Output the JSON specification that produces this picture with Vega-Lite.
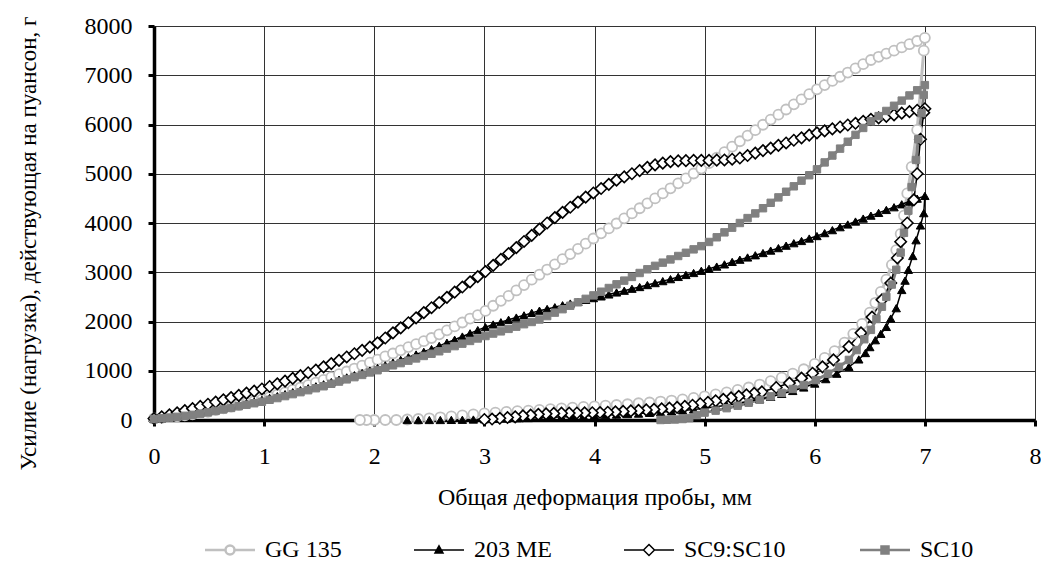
{
"$schema":"https://vega.github.io/schema/vega-lite/v6.json",
"width":881,"height":394,
"autosize":{"type":"none"},
"padding":{"left":154,"top":26,"right":6,"bottom":145},
"background":"white",
"config":{"view":{"stroke":null},"font":"Liberation Serif","legend":{"padding":0,"labelFont":"Liberation Serif","labelFontSize":24,"labelColor":"#000000"}},
"data":{"values":[
{"s":"GG 135","x":0,"y":30},{"s":"GG 135","x":0.07,"y":45},{"s":"GG 135","x":0.14,"y":58},{"s":"GG 135","x":0.21,"y":75},{"s":"GG 135","x":0.28,"y":95},{"s":"GG 135","x":0.35,"y":115},{"s":"GG 135","x":0.42,"y":140},{"s":"GG 135","x":0.49,"y":165},{"s":"GG 135","x":0.56,"y":200},{"s":"GG 135","x":0.63,"y":235},{"s":"GG 135","x":0.7,"y":270},{"s":"GG 135","x":0.77,"y":305},{"s":"GG 135","x":0.84,"y":345},{"s":"GG 135","x":0.91,"y":385},{"s":"GG 135","x":0.98,"y":420},{"s":"GG 135","x":1.05,"y":465},{"s":"GG 135","x":1.12,"y":515},{"s":"GG 135","x":1.19,"y":560},{"s":"GG 135","x":1.26,"y":610},{"s":"GG 135","x":1.33,"y":660},{"s":"GG 135","x":1.4,"y":710},{"s":"GG 135","x":1.47,"y":760},{"s":"GG 135","x":1.54,"y":815},{"s":"GG 135","x":1.61,"y":870},{"s":"GG 135","x":1.68,"y":930},{"s":"GG 135","x":1.75,"y":985},{"s":"GG 135","x":1.82,"y":1045},{"s":"GG 135","x":1.89,"y":1105},{"s":"GG 135","x":1.96,"y":1165},{"s":"GG 135","x":2.03,"y":1225},{"s":"GG 135","x":2.1,"y":1290},{"s":"GG 135","x":2.17,"y":1350},{"s":"GG 135","x":2.24,"y":1415},{"s":"GG 135","x":2.31,"y":1480},{"s":"GG 135","x":2.38,"y":1540},{"s":"GG 135","x":2.45,"y":1600},{"s":"GG 135","x":2.52,"y":1665},{"s":"GG 135","x":2.59,"y":1740},{"s":"GG 135","x":2.66,"y":1820},{"s":"GG 135","x":2.73,"y":1900},{"s":"GG 135","x":2.8,"y":1980},{"s":"GG 135","x":2.87,"y":2060},{"s":"GG 135","x":2.94,"y":2130},{"s":"GG 135","x":3.01,"y":2215},{"s":"GG 135","x":3.08,"y":2320},{"s":"GG 135","x":3.15,"y":2420},{"s":"GG 135","x":3.22,"y":2520},{"s":"GG 135","x":3.29,"y":2630},{"s":"GG 135","x":3.36,"y":2740},{"s":"GG 135","x":3.43,"y":2850},{"s":"GG 135","x":3.5,"y":2950},{"s":"GG 135","x":3.57,"y":3055},{"s":"GG 135","x":3.64,"y":3160},{"s":"GG 135","x":3.71,"y":3265},{"s":"GG 135","x":3.78,"y":3370},{"s":"GG 135","x":3.85,"y":3475},{"s":"GG 135","x":3.92,"y":3580},{"s":"GG 135","x":3.99,"y":3685},{"s":"GG 135","x":4.06,"y":3790},{"s":"GG 135","x":4.13,"y":3890},{"s":"GG 135","x":4.2,"y":3990},{"s":"GG 135","x":4.27,"y":4095},{"s":"GG 135","x":4.34,"y":4195},{"s":"GG 135","x":4.41,"y":4300},{"s":"GG 135","x":4.48,"y":4400},{"s":"GG 135","x":4.55,"y":4500},{"s":"GG 135","x":4.62,"y":4600},{"s":"GG 135","x":4.69,"y":4705},{"s":"GG 135","x":4.76,"y":4805},{"s":"GG 135","x":4.83,"y":4905},{"s":"GG 135","x":4.9,"y":5005},{"s":"GG 135","x":4.97,"y":5105},{"s":"GG 135","x":5.04,"y":5215},{"s":"GG 135","x":5.11,"y":5325},{"s":"GG 135","x":5.18,"y":5440},{"s":"GG 135","x":5.25,"y":5550},{"s":"GG 135","x":5.32,"y":5660},{"s":"GG 135","x":5.39,"y":5775},{"s":"GG 135","x":5.46,"y":5885},{"s":"GG 135","x":5.53,"y":5995},{"s":"GG 135","x":5.6,"y":6100},{"s":"GG 135","x":5.67,"y":6200},{"s":"GG 135","x":5.74,"y":6305},{"s":"GG 135","x":5.81,"y":6410},{"s":"GG 135","x":5.88,"y":6510},{"s":"GG 135","x":5.95,"y":6615},{"s":"GG 135","x":6.02,"y":6715},{"s":"GG 135","x":6.09,"y":6800},{"s":"GG 135","x":6.16,"y":6885},{"s":"GG 135","x":6.23,"y":6970},{"s":"GG 135","x":6.3,"y":7055},{"s":"GG 135","x":6.37,"y":7140},{"s":"GG 135","x":6.44,"y":7225},{"s":"GG 135","x":6.51,"y":7310},{"s":"GG 135","x":6.58,"y":7375},{"s":"GG 135","x":6.65,"y":7440},{"s":"GG 135","x":6.72,"y":7500},{"s":"GG 135","x":6.79,"y":7565},{"s":"GG 135","x":6.86,"y":7630},{"s":"GG 135","x":6.93,"y":7695},{"s":"GG 135","x":7,"y":7760},
{"s":"GG 135","x":6.99,"y":7500},{"s":"GG 135","x":6.93,"y":5890},{"s":"GG 135","x":6.88,"y":5140},{"s":"GG 135","x":6.84,"y":4600},{"s":"GG 135","x":6.81,"y":4150},{"s":"GG 135","x":6.78,"y":3780},{"s":"GG 135","x":6.74,"y":3450},{"s":"GG 135","x":6.7,"y":3150},{"s":"GG 135","x":6.65,"y":2850},{"s":"GG 135","x":6.6,"y":2600},{"s":"GG 135","x":6.55,"y":2380},{"s":"GG 135","x":6.5,"y":2180},{"s":"GG 135","x":6.43,"y":1950},{"s":"GG 135","x":6.35,"y":1750},{"s":"GG 135","x":6.27,"y":1570},{"s":"GG 135","x":6.18,"y":1400},{"s":"GG 135","x":6.09,"y":1260},{"s":"GG 135","x":6,"y":1140},{"s":"GG 135","x":5.9,"y":1030},{"s":"GG 135","x":5.8,"y":940},{"s":"GG 135","x":5.7,"y":860},{"s":"GG 135","x":5.6,"y":790},{"s":"GG 135","x":5.5,"y":720},{"s":"GG 135","x":5.4,"y":660},{"s":"GG 135","x":5.3,"y":610},{"s":"GG 135","x":5.2,"y":560},{"s":"GG 135","x":5.1,"y":520},{"s":"GG 135","x":5,"y":480},{"s":"GG 135","x":4.9,"y":450},{"s":"GG 135","x":4.8,"y":420},{"s":"GG 135","x":4.7,"y":395},{"s":"GG 135","x":4.6,"y":375},{"s":"GG 135","x":4.5,"y":355},{"s":"GG 135","x":4.4,"y":340},{"s":"GG 135","x":4.3,"y":320},{"s":"GG 135","x":4.2,"y":305},{"s":"GG 135","x":4.1,"y":290},{"s":"GG 135","x":4,"y":275},{"s":"GG 135","x":3.9,"y":265},{"s":"GG 135","x":3.8,"y":250},{"s":"GG 135","x":3.7,"y":235},{"s":"GG 135","x":3.6,"y":220},{"s":"GG 135","x":3.5,"y":205},{"s":"GG 135","x":3.4,"y":190},{"s":"GG 135","x":3.3,"y":180},{"s":"GG 135","x":3.2,"y":165},{"s":"GG 135","x":3.1,"y":150},{"s":"GG 135","x":3,"y":135},{"s":"GG 135","x":2.9,"y":115},{"s":"GG 135","x":2.8,"y":95},{"s":"GG 135","x":2.7,"y":75},{"s":"GG 135","x":2.6,"y":55},{"s":"GG 135","x":2.5,"y":35},{"s":"GG 135","x":2.4,"y":20},{"s":"GG 135","x":2.3,"y":10},{"s":"GG 135","x":2.2,"y":0},{"s":"GG 135","x":2.1,"y":0},{"s":"GG 135","x":2,"y":0},{"s":"GG 135","x":1.93,"y":0},{"s":"GG 135","x":1.87,"y":0},
{"s":"203 ME","x":0,"y":20},{"s":"203 ME","x":0.07,"y":35},{"s":"203 ME","x":0.14,"y":55},{"s":"203 ME","x":0.21,"y":75},{"s":"203 ME","x":0.28,"y":100},{"s":"203 ME","x":0.35,"y":125},{"s":"203 ME","x":0.42,"y":155},{"s":"203 ME","x":0.49,"y":185},{"s":"203 ME","x":0.56,"y":215},{"s":"203 ME","x":0.63,"y":245},{"s":"203 ME","x":0.7,"y":280},{"s":"203 ME","x":0.77,"y":310},{"s":"203 ME","x":0.84,"y":345},{"s":"203 ME","x":0.91,"y":375},{"s":"203 ME","x":0.98,"y":410},{"s":"203 ME","x":1.05,"y":450},{"s":"203 ME","x":1.12,"y":485},{"s":"203 ME","x":1.19,"y":525},{"s":"203 ME","x":1.26,"y":565},{"s":"203 ME","x":1.33,"y":605},{"s":"203 ME","x":1.4,"y":645},{"s":"203 ME","x":1.47,"y":685},{"s":"203 ME","x":1.54,"y":725},{"s":"203 ME","x":1.61,"y":770},{"s":"203 ME","x":1.68,"y":820},{"s":"203 ME","x":1.75,"y":865},{"s":"203 ME","x":1.82,"y":910},{"s":"203 ME","x":1.89,"y":955},{"s":"203 ME","x":1.96,"y":1005},{"s":"203 ME","x":2.03,"y":1055},{"s":"203 ME","x":2.1,"y":1110},{"s":"203 ME","x":2.17,"y":1165},{"s":"203 ME","x":2.24,"y":1220},{"s":"203 ME","x":2.31,"y":1275},{"s":"203 ME","x":2.38,"y":1330},{"s":"203 ME","x":2.45,"y":1385},{"s":"203 ME","x":2.52,"y":1440},{"s":"203 ME","x":2.59,"y":1505},{"s":"203 ME","x":2.66,"y":1570},{"s":"203 ME","x":2.73,"y":1630},{"s":"203 ME","x":2.8,"y":1695},{"s":"203 ME","x":2.87,"y":1760},{"s":"203 ME","x":2.94,"y":1825},{"s":"203 ME","x":3.01,"y":1885},{"s":"203 ME","x":3.08,"y":1940},{"s":"203 ME","x":3.15,"y":1985},{"s":"203 ME","x":3.22,"y":2035},{"s":"203 ME","x":3.29,"y":2080},{"s":"203 ME","x":3.36,"y":2125},{"s":"203 ME","x":3.43,"y":2175},{"s":"203 ME","x":3.5,"y":2220},{"s":"203 ME","x":3.57,"y":2255},{"s":"203 ME","x":3.64,"y":2290},{"s":"203 ME","x":3.71,"y":2330},{"s":"203 ME","x":3.78,"y":2365},{"s":"203 ME","x":3.85,"y":2400},{"s":"203 ME","x":3.92,"y":2440},{"s":"203 ME","x":3.99,"y":2475},{"s":"203 ME","x":4.06,"y":2510},{"s":"203 ME","x":4.13,"y":2550},{"s":"203 ME","x":4.2,"y":2590},{"s":"203 ME","x":4.27,"y":2625},{"s":"203 ME","x":4.34,"y":2665},{"s":"203 ME","x":4.41,"y":2700},{"s":"203 ME","x":4.48,"y":2740},{"s":"203 ME","x":4.55,"y":2780},{"s":"203 ME","x":4.62,"y":2820},{"s":"203 ME","x":4.69,"y":2860},{"s":"203 ME","x":4.76,"y":2905},{"s":"203 ME","x":4.83,"y":2945},{"s":"203 ME","x":4.9,"y":2985},{"s":"203 ME","x":4.97,"y":3030},{"s":"203 ME","x":5.04,"y":3070},{"s":"203 ME","x":5.11,"y":3115},{"s":"203 ME","x":5.18,"y":3160},{"s":"203 ME","x":5.25,"y":3210},{"s":"203 ME","x":5.32,"y":3255},{"s":"203 ME","x":5.39,"y":3300},{"s":"203 ME","x":5.46,"y":3345},{"s":"203 ME","x":5.53,"y":3390},{"s":"203 ME","x":5.6,"y":3440},{"s":"203 ME","x":5.67,"y":3490},{"s":"203 ME","x":5.74,"y":3540},{"s":"203 ME","x":5.81,"y":3590},{"s":"203 ME","x":5.88,"y":3635},{"s":"203 ME","x":5.95,"y":3685},{"s":"203 ME","x":6.02,"y":3735},{"s":"203 ME","x":6.09,"y":3795},{"s":"203 ME","x":6.16,"y":3855},{"s":"203 ME","x":6.23,"y":3915},{"s":"203 ME","x":6.3,"y":3970},{"s":"203 ME","x":6.37,"y":4030},{"s":"203 ME","x":6.44,"y":4090},{"s":"203 ME","x":6.51,"y":4150},{"s":"203 ME","x":6.58,"y":4205},{"s":"203 ME","x":6.65,"y":4265},{"s":"203 ME","x":6.72,"y":4320},{"s":"203 ME","x":6.79,"y":4380},{"s":"203 ME","x":6.86,"y":4435},{"s":"203 ME","x":6.93,"y":4495},{"s":"203 ME","x":7,"y":4550},
{"s":"203 ME","x":6.99,"y":4200},{"s":"203 ME","x":6.96,"y":3950},{"s":"203 ME","x":6.92,"y":3650},{"s":"203 ME","x":6.89,"y":3330},{"s":"203 ME","x":6.85,"y":3050},{"s":"203 ME","x":6.82,"y":2830},{"s":"203 ME","x":6.79,"y":2640},{"s":"203 ME","x":6.74,"y":2270},{"s":"203 ME","x":6.69,"y":2060},{"s":"203 ME","x":6.65,"y":1890},{"s":"203 ME","x":6.6,"y":1750},{"s":"203 ME","x":6.55,"y":1620},{"s":"203 ME","x":6.5,"y":1480},{"s":"203 ME","x":6.46,"y":1360},{"s":"203 ME","x":6.4,"y":1230},{"s":"203 ME","x":6.31,"y":1080},{"s":"203 ME","x":6.2,"y":940},{"s":"203 ME","x":6.1,"y":830},{"s":"203 ME","x":6,"y":740},{"s":"203 ME","x":5.9,"y":660},{"s":"203 ME","x":5.8,"y":590},{"s":"203 ME","x":5.7,"y":530},{"s":"203 ME","x":5.6,"y":470},{"s":"203 ME","x":5.5,"y":420},{"s":"203 ME","x":5.4,"y":380},{"s":"203 ME","x":5.3,"y":340},{"s":"203 ME","x":5.2,"y":300},{"s":"203 ME","x":5.1,"y":270},{"s":"203 ME","x":5,"y":240},{"s":"203 ME","x":4.9,"y":215},{"s":"203 ME","x":4.8,"y":195},{"s":"203 ME","x":4.7,"y":175},{"s":"203 ME","x":4.6,"y":160},{"s":"203 ME","x":4.5,"y":145},{"s":"203 ME","x":4.4,"y":130},{"s":"203 ME","x":4.3,"y":120},{"s":"203 ME","x":4.2,"y":110},{"s":"203 ME","x":4.1,"y":100},{"s":"203 ME","x":4,"y":90},{"s":"203 ME","x":3.9,"y":80},{"s":"203 ME","x":3.8,"y":70},{"s":"203 ME","x":3.7,"y":62},{"s":"203 ME","x":3.6,"y":55},{"s":"203 ME","x":3.5,"y":48},{"s":"203 ME","x":3.4,"y":40},{"s":"203 ME","x":3.3,"y":35},{"s":"203 ME","x":3.2,"y":28},{"s":"203 ME","x":3.1,"y":22},{"s":"203 ME","x":3,"y":16},{"s":"203 ME","x":2.9,"y":10},{"s":"203 ME","x":2.8,"y":5},{"s":"203 ME","x":2.7,"y":2},{"s":"203 ME","x":2.6,"y":0},{"s":"203 ME","x":2.5,"y":0},{"s":"203 ME","x":2.4,"y":0},{"s":"203 ME","x":2.3,"y":0},
{"s":"SC9:SC10","x":0,"y":30},{"s":"SC9:SC10","x":0.07,"y":65},{"s":"SC9:SC10","x":0.14,"y":105},{"s":"SC9:SC10","x":0.21,"y":145},{"s":"SC9:SC10","x":0.28,"y":190},{"s":"SC9:SC10","x":0.35,"y":230},{"s":"SC9:SC10","x":0.42,"y":275},{"s":"SC9:SC10","x":0.49,"y":320},{"s":"SC9:SC10","x":0.56,"y":365},{"s":"SC9:SC10","x":0.63,"y":410},{"s":"SC9:SC10","x":0.7,"y":455},{"s":"SC9:SC10","x":0.77,"y":500},{"s":"SC9:SC10","x":0.84,"y":545},{"s":"SC9:SC10","x":0.91,"y":585},{"s":"SC9:SC10","x":0.98,"y":630},{"s":"SC9:SC10","x":1.05,"y":680},{"s":"SC9:SC10","x":1.12,"y":735},{"s":"SC9:SC10","x":1.19,"y":790},{"s":"SC9:SC10","x":1.26,"y":845},{"s":"SC9:SC10","x":1.33,"y":900},{"s":"SC9:SC10","x":1.4,"y":960},{"s":"SC9:SC10","x":1.47,"y":1015},{"s":"SC9:SC10","x":1.54,"y":1080},{"s":"SC9:SC10","x":1.61,"y":1145},{"s":"SC9:SC10","x":1.68,"y":1210},{"s":"SC9:SC10","x":1.75,"y":1280},{"s":"SC9:SC10","x":1.82,"y":1345},{"s":"SC9:SC10","x":1.89,"y":1415},{"s":"SC9:SC10","x":1.96,"y":1480},{"s":"SC9:SC10","x":2.03,"y":1565},{"s":"SC9:SC10","x":2.1,"y":1665},{"s":"SC9:SC10","x":2.17,"y":1770},{"s":"SC9:SC10","x":2.24,"y":1870},{"s":"SC9:SC10","x":2.31,"y":1975},{"s":"SC9:SC10","x":2.38,"y":2075},{"s":"SC9:SC10","x":2.45,"y":2180},{"s":"SC9:SC10","x":2.52,"y":2280},{"s":"SC9:SC10","x":2.59,"y":2385},{"s":"SC9:SC10","x":2.66,"y":2490},{"s":"SC9:SC10","x":2.73,"y":2595},{"s":"SC9:SC10","x":2.8,"y":2700},{"s":"SC9:SC10","x":2.87,"y":2805},{"s":"SC9:SC10","x":2.94,"y":2910},{"s":"SC9:SC10","x":3.01,"y":3015},{"s":"SC9:SC10","x":3.08,"y":3140},{"s":"SC9:SC10","x":3.15,"y":3260},{"s":"SC9:SC10","x":3.22,"y":3380},{"s":"SC9:SC10","x":3.29,"y":3500},{"s":"SC9:SC10","x":3.36,"y":3625},{"s":"SC9:SC10","x":3.43,"y":3750},{"s":"SC9:SC10","x":3.5,"y":3875},{"s":"SC9:SC10","x":3.57,"y":4000},{"s":"SC9:SC10","x":3.64,"y":4110},{"s":"SC9:SC10","x":3.71,"y":4215},{"s":"SC9:SC10","x":3.78,"y":4320},{"s":"SC9:SC10","x":3.85,"y":4425},{"s":"SC9:SC10","x":3.92,"y":4525},{"s":"SC9:SC10","x":3.99,"y":4610},{"s":"SC9:SC10","x":4.06,"y":4700},{"s":"SC9:SC10","x":4.13,"y":4785},{"s":"SC9:SC10","x":4.2,"y":4870},{"s":"SC9:SC10","x":4.27,"y":4935},{"s":"SC9:SC10","x":4.34,"y":5000},{"s":"SC9:SC10","x":4.41,"y":5065},{"s":"SC9:SC10","x":4.48,"y":5130},{"s":"SC9:SC10","x":4.55,"y":5180},{"s":"SC9:SC10","x":4.62,"y":5215},{"s":"SC9:SC10","x":4.69,"y":5245},{"s":"SC9:SC10","x":4.76,"y":5260},{"s":"SC9:SC10","x":4.83,"y":5265},{"s":"SC9:SC10","x":4.9,"y":5270},{"s":"SC9:SC10","x":4.97,"y":5270},{"s":"SC9:SC10","x":5.04,"y":5270},{"s":"SC9:SC10","x":5.11,"y":5275},{"s":"SC9:SC10","x":5.18,"y":5280},{"s":"SC9:SC10","x":5.25,"y":5295},{"s":"SC9:SC10","x":5.32,"y":5320},{"s":"SC9:SC10","x":5.39,"y":5370},{"s":"SC9:SC10","x":5.46,"y":5420},{"s":"SC9:SC10","x":5.53,"y":5470},{"s":"SC9:SC10","x":5.6,"y":5520},{"s":"SC9:SC10","x":5.67,"y":5575},{"s":"SC9:SC10","x":5.74,"y":5625},{"s":"SC9:SC10","x":5.81,"y":5680},{"s":"SC9:SC10","x":5.88,"y":5730},{"s":"SC9:SC10","x":5.95,"y":5785},{"s":"SC9:SC10","x":6.02,"y":5830},{"s":"SC9:SC10","x":6.09,"y":5870},{"s":"SC9:SC10","x":6.16,"y":5910},{"s":"SC9:SC10","x":6.23,"y":5950},{"s":"SC9:SC10","x":6.3,"y":5990},{"s":"SC9:SC10","x":6.37,"y":6025},{"s":"SC9:SC10","x":6.44,"y":6065},{"s":"SC9:SC10","x":6.51,"y":6105},{"s":"SC9:SC10","x":6.58,"y":6135},{"s":"SC9:SC10","x":6.65,"y":6165},{"s":"SC9:SC10","x":6.72,"y":6195},{"s":"SC9:SC10","x":6.79,"y":6230},{"s":"SC9:SC10","x":6.86,"y":6260},{"s":"SC9:SC10","x":6.93,"y":6290},{"s":"SC9:SC10","x":7,"y":6320},
{"s":"SC9:SC10","x":6.99,"y":6240},{"s":"SC9:SC10","x":6.96,"y":5700},{"s":"SC9:SC10","x":6.93,"y":5000},{"s":"SC9:SC10","x":6.9,"y":4470},{"s":"SC9:SC10","x":6.84,"y":4000},{"s":"SC9:SC10","x":6.78,"y":3620},{"s":"SC9:SC10","x":6.75,"y":3290},{"s":"SC9:SC10","x":6.69,"y":2780},{"s":"SC9:SC10","x":6.61,"y":2440},{"s":"SC9:SC10","x":6.52,"y":2090},{"s":"SC9:SC10","x":6.42,"y":1770},{"s":"SC9:SC10","x":6.31,"y":1490},{"s":"SC9:SC10","x":6.17,"y":1220},{"s":"SC9:SC10","x":6.07,"y":1080},{"s":"SC9:SC10","x":5.98,"y":950},{"s":"SC9:SC10","x":5.88,"y":850},{"s":"SC9:SC10","x":5.77,"y":750},{"s":"SC9:SC10","x":5.65,"y":660},{"s":"SC9:SC10","x":5.52,"y":570},{"s":"SC9:SC10","x":5.45,"y":540},{"s":"SC9:SC10","x":5.38,"y":510},{"s":"SC9:SC10","x":5.31,"y":480},{"s":"SC9:SC10","x":5.24,"y":450},{"s":"SC9:SC10","x":5.17,"y":420},{"s":"SC9:SC10","x":5.1,"y":390},{"s":"SC9:SC10","x":5.03,"y":360},{"s":"SC9:SC10","x":4.96,"y":330},{"s":"SC9:SC10","x":4.89,"y":300},{"s":"SC9:SC10","x":4.82,"y":275},{"s":"SC9:SC10","x":4.75,"y":255},{"s":"SC9:SC10","x":4.68,"y":240},{"s":"SC9:SC10","x":4.61,"y":225},{"s":"SC9:SC10","x":4.54,"y":215},{"s":"SC9:SC10","x":4.47,"y":205},{"s":"SC9:SC10","x":4.4,"y":195},{"s":"SC9:SC10","x":4.33,"y":185},{"s":"SC9:SC10","x":4.26,"y":175},{"s":"SC9:SC10","x":4.19,"y":165},{"s":"SC9:SC10","x":4.12,"y":158},{"s":"SC9:SC10","x":4.05,"y":152},{"s":"SC9:SC10","x":3.98,"y":148},{"s":"SC9:SC10","x":3.91,"y":145},{"s":"SC9:SC10","x":3.84,"y":142},{"s":"SC9:SC10","x":3.77,"y":140},{"s":"SC9:SC10","x":3.7,"y":138},{"s":"SC9:SC10","x":3.63,"y":133},{"s":"SC9:SC10","x":3.56,"y":125},{"s":"SC9:SC10","x":3.49,"y":115},{"s":"SC9:SC10","x":3.42,"y":100},{"s":"SC9:SC10","x":3.35,"y":85},{"s":"SC9:SC10","x":3.28,"y":65},{"s":"SC9:SC10","x":3.21,"y":50},{"s":"SC9:SC10","x":3.14,"y":35},{"s":"SC9:SC10","x":3.07,"y":20},{"s":"SC9:SC10","x":3,"y":10},
{"s":"SC10","x":0,"y":20},{"s":"SC10","x":0.07,"y":35},{"s":"SC10","x":0.14,"y":50},{"s":"SC10","x":0.21,"y":65},{"s":"SC10","x":0.28,"y":85},{"s":"SC10","x":0.35,"y":105},{"s":"SC10","x":0.42,"y":130},{"s":"SC10","x":0.49,"y":155},{"s":"SC10","x":0.56,"y":185},{"s":"SC10","x":0.63,"y":215},{"s":"SC10","x":0.7,"y":245},{"s":"SC10","x":0.77,"y":280},{"s":"SC10","x":0.84,"y":310},{"s":"SC10","x":0.91,"y":340},{"s":"SC10","x":0.98,"y":370},{"s":"SC10","x":1.05,"y":410},{"s":"SC10","x":1.12,"y":445},{"s":"SC10","x":1.19,"y":485},{"s":"SC10","x":1.26,"y":525},{"s":"SC10","x":1.33,"y":565},{"s":"SC10","x":1.4,"y":605},{"s":"SC10","x":1.47,"y":645},{"s":"SC10","x":1.54,"y":685},{"s":"SC10","x":1.61,"y":735},{"s":"SC10","x":1.68,"y":780},{"s":"SC10","x":1.75,"y":825},{"s":"SC10","x":1.82,"y":870},{"s":"SC10","x":1.89,"y":915},{"s":"SC10","x":1.96,"y":965},{"s":"SC10","x":2.03,"y":1010},{"s":"SC10","x":2.1,"y":1060},{"s":"SC10","x":2.17,"y":1110},{"s":"SC10","x":2.24,"y":1155},{"s":"SC10","x":2.31,"y":1205},{"s":"SC10","x":2.38,"y":1250},{"s":"SC10","x":2.45,"y":1300},{"s":"SC10","x":2.52,"y":1345},{"s":"SC10","x":2.59,"y":1395},{"s":"SC10","x":2.66,"y":1450},{"s":"SC10","x":2.73,"y":1500},{"s":"SC10","x":2.8,"y":1550},{"s":"SC10","x":2.87,"y":1605},{"s":"SC10","x":2.94,"y":1655},{"s":"SC10","x":3.01,"y":1705},{"s":"SC10","x":3.08,"y":1755},{"s":"SC10","x":3.15,"y":1800},{"s":"SC10","x":3.22,"y":1850},{"s":"SC10","x":3.29,"y":1895},{"s":"SC10","x":3.36,"y":1945},{"s":"SC10","x":3.43,"y":1990},{"s":"SC10","x":3.5,"y":2040},{"s":"SC10","x":3.57,"y":2110},{"s":"SC10","x":3.64,"y":2180},{"s":"SC10","x":3.71,"y":2250},{"s":"SC10","x":3.78,"y":2320},{"s":"SC10","x":3.85,"y":2390},{"s":"SC10","x":3.92,"y":2460},{"s":"SC10","x":3.99,"y":2530},{"s":"SC10","x":4.06,"y":2605},{"s":"SC10","x":4.13,"y":2680},{"s":"SC10","x":4.2,"y":2755},{"s":"SC10","x":4.27,"y":2830},{"s":"SC10","x":4.34,"y":2905},{"s":"SC10","x":4.41,"y":2985},{"s":"SC10","x":4.48,"y":3060},{"s":"SC10","x":4.55,"y":3130},{"s":"SC10","x":4.62,"y":3195},{"s":"SC10","x":4.69,"y":3260},{"s":"SC10","x":4.76,"y":3330},{"s":"SC10","x":4.83,"y":3395},{"s":"SC10","x":4.9,"y":3465},{"s":"SC10","x":4.97,"y":3530},{"s":"SC10","x":5.04,"y":3615},{"s":"SC10","x":5.11,"y":3710},{"s":"SC10","x":5.18,"y":3810},{"s":"SC10","x":5.25,"y":3905},{"s":"SC10","x":5.32,"y":4000},{"s":"SC10","x":5.39,"y":4100},{"s":"SC10","x":5.46,"y":4195},{"s":"SC10","x":5.53,"y":4300},{"s":"SC10","x":5.6,"y":4410},{"s":"SC10","x":5.67,"y":4520},{"s":"SC10","x":5.74,"y":4635},{"s":"SC10","x":5.81,"y":4745},{"s":"SC10","x":5.88,"y":4860},{"s":"SC10","x":5.95,"y":4970},{"s":"SC10","x":6.02,"y":5090},{"s":"SC10","x":6.09,"y":5230},{"s":"SC10","x":6.16,"y":5370},{"s":"SC10","x":6.23,"y":5510},{"s":"SC10","x":6.3,"y":5650},{"s":"SC10","x":6.37,"y":5790},{"s":"SC10","x":6.44,"y":5930},{"s":"SC10","x":6.51,"y":6065},{"s":"SC10","x":6.58,"y":6170},{"s":"SC10","x":6.65,"y":6275},{"s":"SC10","x":6.72,"y":6380},{"s":"SC10","x":6.79,"y":6485},{"s":"SC10","x":6.86,"y":6590},{"s":"SC10","x":6.93,"y":6695},{"s":"SC10","x":7,"y":6800},
{"s":"SC10","x":6.99,"y":6600},{"s":"SC10","x":6.97,"y":6230},{"s":"SC10","x":6.94,"y":5700},{"s":"SC10","x":6.92,"y":5280},{"s":"SC10","x":6.88,"y":4730},{"s":"SC10","x":6.85,"y":4250},{"s":"SC10","x":6.81,"y":3800},{"s":"SC10","x":6.78,"y":3400},{"s":"SC10","x":6.74,"y":3050},{"s":"SC10","x":6.7,"y":2750},{"s":"SC10","x":6.65,"y":2500},{"s":"SC10","x":6.61,"y":2300},{"s":"SC10","x":6.56,"y":2050},{"s":"SC10","x":6.51,"y":1830},{"s":"SC10","x":6.45,"y":1640},{"s":"SC10","x":6.38,"y":1420},{"s":"SC10","x":6.31,"y":1220},{"s":"SC10","x":6.22,"y":1080},{"s":"SC10","x":6.12,"y":940},{"s":"SC10","x":6.01,"y":810},{"s":"SC10","x":5.9,"y":710},{"s":"SC10","x":5.8,"y":630},{"s":"SC10","x":5.7,"y":550},{"s":"SC10","x":5.6,"y":480},{"s":"SC10","x":5.5,"y":410},{"s":"SC10","x":5.4,"y":350},{"s":"SC10","x":5.3,"y":290},{"s":"SC10","x":5.2,"y":240},{"s":"SC10","x":5.1,"y":190},{"s":"SC10","x":5,"y":150},{"s":"SC10","x":4.93,"y":100},{"s":"SC10","x":4.86,"y":40},{"s":"SC10","x":4.8,"y":20},{"s":"SC10","x":4.73,"y":10},{"s":"SC10","x":4.66,"y":5},{"s":"SC10","x":4.6,"y":0}
]},
"transform":[{"window":[{"op":"row_number","as":"i"}]}],
"encoding":{
 "x":{"field":"x","type":"quantitative","scale":{"domain":[0,8],"nice":false,"zero":false},
  "axis":{"values":[0,1,2,3,4,5,6,7,8],"format":"d","title":"Общая деформация пробы, мм","grid":true,"gridColor":"#333333","gridWidth":1,"domainColor":"#000000","domainWidth":3.5,"tickColor":"#000000","tickWidth":3,"tickSize":6,"labelFont":"Liberation Serif","labelFontSize":24,"labelColor":"#000000","labelPadding":18,"labelFlush":false,"titleFont":"Liberation Serif","titleFontSize":24,"titleFontWeight":"normal","titleColor":"#000000","titleY":77,"titleBaseline":"middle"}},
 "y":{"field":"y","type":"quantitative","scale":{"domain":[0,8000],"nice":false},
  "axis":{"values":[0,1000,2000,3000,4000,5000,6000,7000,8000],"format":"d","title":"Усилие (нагрузка), действующая на пуансон, г","grid":true,"gridColor":"#333333","gridWidth":1,"domainColor":"#000000","domainWidth":3.5,"tickColor":"#000000","tickWidth":3,"tickSize":6,"labelFont":"Liberation Serif","labelFontSize":24,"labelColor":"#000000","labelPadding":16,"labelFlush":false,"titleFont":"Liberation Serif","titleFontSize":23,"titleFontWeight":"normal","titleColor":"#000000","titleAngle":270,"titleX":-126,"titleY":217,"titleAlign":"center","titleBaseline":"middle"}},
 "order":{"field":"i","type":"quantitative"},
 "stroke":{"field":"s","type":"nominal","scale":{"domain":["GG 135","203 ME","SC9:SC10","SC10"],"range":["#c0c0c0","#000000","#000000","#808080"]},
  "legend":{"orient":"none","legendX":64,"legendY":512,"direction":"horizontal","columns":4,"title":null,"symbolSize":2500,"symbolStrokeWidth":2,"labelFont":"Liberation Serif","labelFontSize":24,"labelColor":"#000000","labelOffset":23,"labelLimit":300,"columnPadding":69,
   "encode":{"symbols":{"update":{
    "shape":{"signal":"datum.value==='GG 135'?'M-1,0H-0.18M0.18,0H1M0.18,0A0.18,0.18,0,1,1,-0.18,0A0.18,0.18,0,1,1,0.18,0Z':datum.value==='203 ME'?'M-1,0H1M0,-0.17L0.16,0.12L-0.16,0.12Z':datum.value==='SC9:SC10'?'M-1,0H-0.22M0.22,0H1M0,-0.22L0.22,0L0,0.22L-0.22,0Z':'M-1,0H1M-0.14,-0.14H0.14V0.14H-0.14Z'"},
    "fill":{"signal":"datum.value==='GG 135'||datum.value==='SC9:SC10'?'#ffffff':datum.value==='203 ME'?'#000000':'#808080'"},
    "strokeWidth":{"signal":"datum.value==='GG 135'||datum.value==='SC10'?2.5:1.5"},
    "opacity":{"value":1},
    "size":{"value":2500}
   }},
   "labels":{"update":{"font":{"value":"Liberation Serif"},"fontSize":{"value":24},"fill":{"value":"#000000"}}}}}
 }
},
"layer":[
 {"transform":[{"filter":{"field":"s","oneOf":["GG 135","SC10"]}}],"mark":{"type":"line","strokeWidth":3,"strokeJoin":"round"}},
 {"transform":[{"filter":{"field":"s","oneOf":["203 ME","SC9:SC10"]}}],"mark":{"type":"line","strokeWidth":1.5,"strokeJoin":"round"}},
 {"transform":[{"filter":{"field":"s","equal":"GG 135"}}],"mark":{"type":"point","shape":"circle","size":100,"fill":"#ffffff","opacity":1,"strokeWidth":1.8}},
 {"transform":[{"filter":{"field":"s","equal":"203 ME"}}],"mark":{"type":"point","shape":"triangle-up","size":70,"fill":"#000000","opacity":1,"strokeWidth":1}},
 {"transform":[{"filter":{"field":"s","equal":"SC9:SC10"}}],"mark":{"type":"point","shape":"diamond","size":130,"fill":"#ffffff","opacity":1,"strokeWidth":1.6}},
 {"transform":[{"filter":{"field":"s","equal":"SC10"}}],"mark":{"type":"point","shape":"square","size":55,"fill":"#808080","opacity":1,"strokeWidth":1}}
]
}
